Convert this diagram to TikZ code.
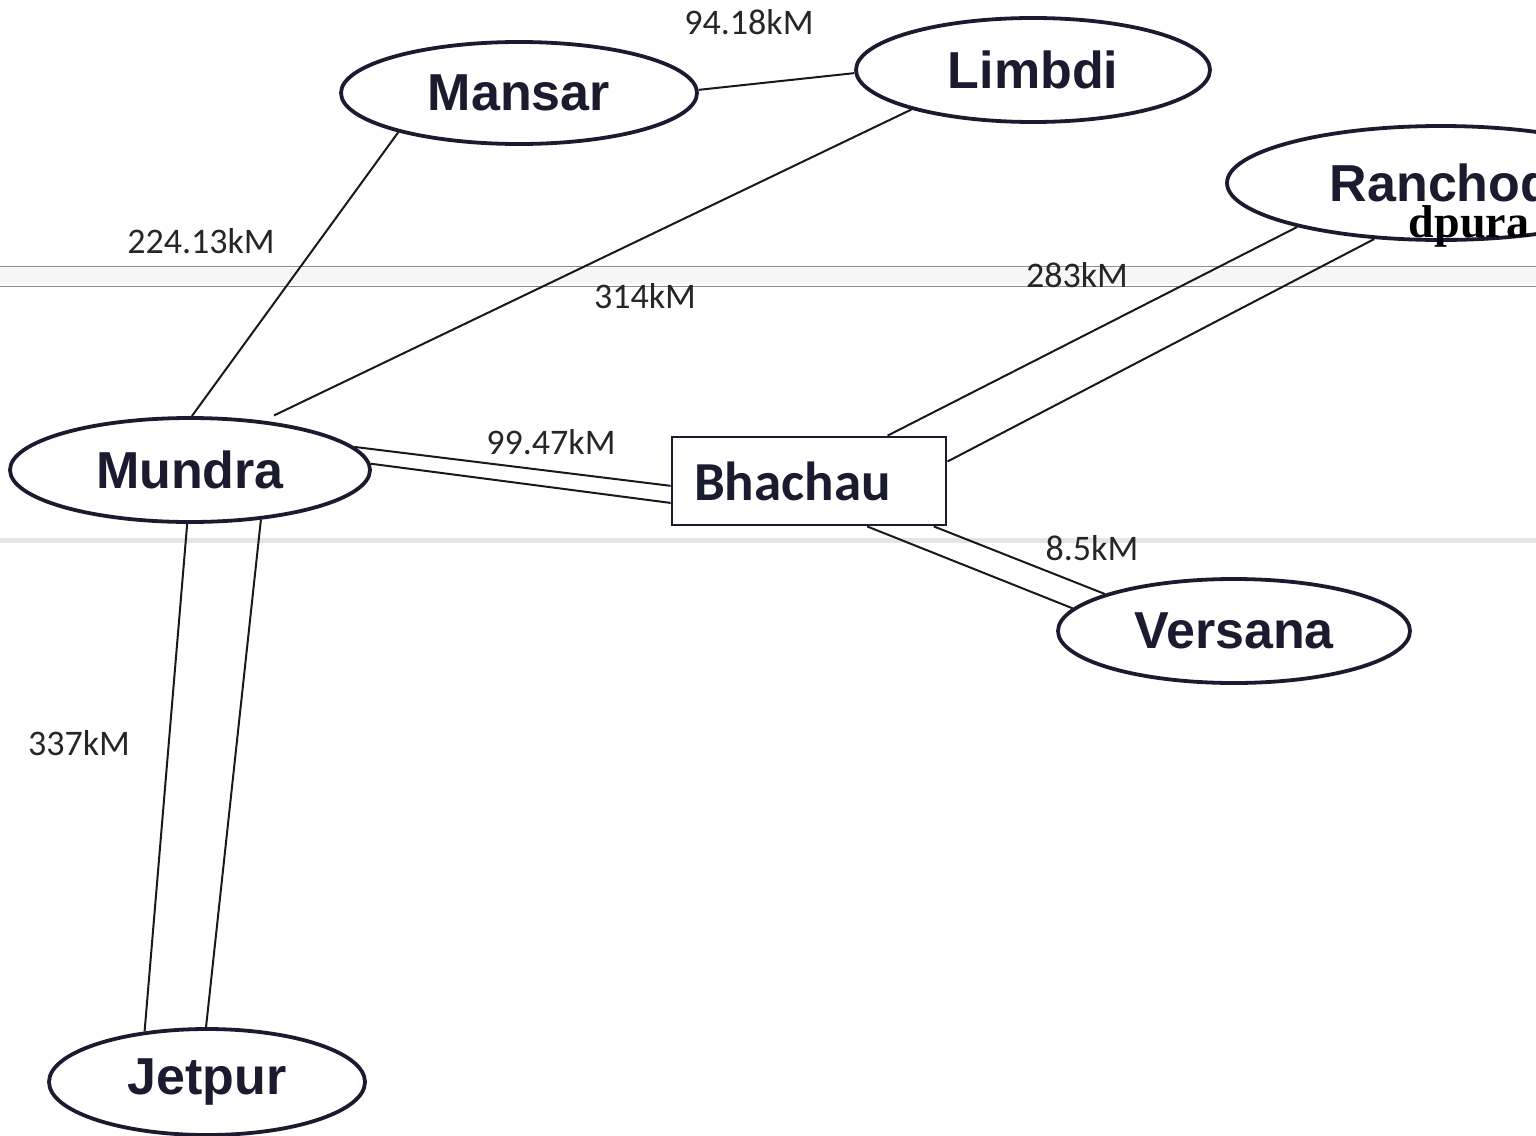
\documentclass[tikz,border=0pt]{standalone}
\usepackage{fontspec}
\usepackage{tikz}
\usetikzlibrary{shapes.geometric, positioning}
\newfontfamily\cityfont{Liberation Sans}
\newfontfamily\distfont{Carlito}
\newfontfamily\cityserif{Liberation Serif}
\definecolor{inkblue}{HTML}{1B1B30}
\definecolor{scangray}{HTML}{8C8C8C}

\begin{document}
\begin{tikzpicture}[x=1pt, y=-1pt,
    city/.style={ellipse, draw=inkblue, line width=3.8pt, inner sep=0pt, text=inkblue,
      font=\cityfont\bfseries\fontsize{52}{60}\selectfont},
    road/.style={line width=2pt, black!90},
    dist/.style={font=\distfont\fontsize{36}{40}\selectfont, text=black!85}]
        \useasboundingbox (0,0) rectangle (1536,1135);
        \clip (0,0) rectangle (1536,1135);
        % scan lines
        \fill[gray!7] (0,268) rectangle (1536,284);
        \foreach \y in {266,286}{
          \draw[scangray, line width=1pt] (0,\y) -- (1536,\y);
        }
        \draw[gray!20, line width=5pt] (0,540) -- (1536,540);
        % cities
        \node[city, minimum width=356pt, minimum height=102pt] (mansar) at (519,93) {Mansar};
        \node[city, minimum width=354pt, minimum height=104pt] (limbdi) at (1033,70) {Limbdi};
        \node[city, minimum width=428pt, minimum height=114pt] (ranchod) at (1441,183) {Ranchod};
        \node[font=\cityserif\bfseries\fontsize{46}{50}\selectfont, anchor=base] (ranchodb) at (1469,237) {dpura};
        \node[city, minimum width=360pt, minimum height=104pt] (mundra) at (190,470) {Mundra};
        \node[city, minimum width=352pt, minimum height=104pt] (versana) at (1234,631) {Versana};
        \node[city, minimum width=316pt, minimum height=106pt] (jetpur) at (207,1082) {Jetpur};
        \node[rectangle, draw=inkblue, line width=2.8pt, minimum height=88pt, text width=230pt,
          inner xsep=22pt, align=left, text=inkblue,
          font=\distfont\bfseries\fontsize{55}{60}\selectfont] (bhachau) at (809,481) {Bhachau};
        % roads
        \draw[road] (mansar.1) -- (limbdi.181);
        \draw[road] (mansar.198) -- (mundra.88);
        \draw[road, shorten >=12pt] (limbdi.198) -- (mundra.34);
        \draw[road] (mundra.8) -- (bhachau.182);
        \draw[road] (mundra.2) -- (bhachau.189);
        \draw[road] (bhachau.30) -- (ranchod.197);
        \draw[road] (bhachau.8) -- (ranchod.220);
        \draw[road] (bhachau.-38) -- (versana.172);
        \draw[road] (bhachau.-20) -- (versana.164);
        \draw[road] (mundra.267) -- (jetpur.141);
        \draw[road] (mundra.325) -- (jetpur.91);
        % distances
        \node[dist] (dml) at (749,22) {94.18kM};
        \node[dist] (dmm) at (201,241) {224.13kM};
        \node[dist] (dlm) at (645,296) {314kM};
        \node[dist] (dbr) at (1077,275) {283kM};
        \node[dist] (dmb) at (551,442) {99.47kM};
        \node[dist] (dbv) at (1092,548) {8.5kM};
        \node[dist] (dmj) at (79,743) {337kM};
      \end{tikzpicture}
\end{document}
